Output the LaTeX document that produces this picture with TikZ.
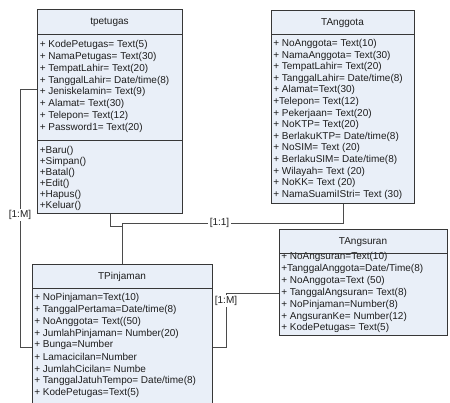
\documentclass[tikz,border=0pt]{standalone}
\usepackage{fontspec}
\setmainfont{Liberation Sans}
\usepackage{xcolor}

\definecolor{boxfill}{RGB}{233,239,248}
\definecolor{boxedge}{RGB}{55,55,55}
\definecolor{linkgray}{RGB}{75,75,75}
\definecolor{rowtext}{RGB}{30,30,30}
\newcommand{\pxu}{0.75pt}

\begin{document}
\begin{tikzpicture}[x=0.75pt,y=-0.75pt,
  class_box/.style={draw=boxedge,fill=boxfill,line width=0.75pt,anchor=north west,inner sep=0pt},
  class_title/.style={inner sep=0pt,text=rowtext,font=\fontsize{7.5}{9}\selectfont},
  row_text/.style={anchor=west,inner sep=0pt,text=rowtext,font=\fontsize{7.5}{9}\selectfont},
  divider/.style={draw=boxedge,line width=0.75pt},
  link/.style={draw=linkgray,line width=0.75pt},
  link_label/.style={fill=white,inner sep=1pt,text=rowtext,font=\fontsize{7.5}{9}\selectfont}]

\useasboundingbox (0,0) rectangle (450,403);

% tpetugas
\node[class_box,minimum width=145*\pxu,minimum height=204*\pxu] (tpetugas) at (37,9) {};
\node[class_title] (tp_title) at (109.5,22) {tpetugas};
\node[row_text] (tp_a1) at (39.5,45) {+ KodePetugas= Text(5)};
\node[row_text] (tp_a2) at (39.5,57) {+ NamaPetugas= Text(30)};
\node[row_text] (tp_a3) at (39.5,69) {+ TempatLahir= Text(20)};
\node[row_text] (tp_a4) at (39.5,81) {+ TanggalLahir= Date/time(8)};
\node[row_text] (tp_a5) at (39.5,92) {+ Jeniskelamin= Text(9)};
\node[row_text] (tp_a6) at (39.5,104) {+ Alamat= Text(30)};
\node[row_text] (tp_a7) at (39.5,116) {+ Telepon= Text(12)};
\node[row_text] (tp_a8) at (39.5,128) {+ Password1= Text(20)};
\node[row_text] (tp_m1) at (39.5,151) {+Baru()};
\node[row_text] (tp_m2) at (39.5,162) {+Simpan()};
\node[row_text] (tp_m3) at (39.5,173) {+Batal()};
\node[row_text] (tp_m4) at (39.5,184) {+Edit()};
\node[row_text] (tp_m5) at (39.5,195) {+Hapus()};
\node[row_text] (tp_m6) at (39.5,206) {+Keluar()};
\path[divider] (37,35) -- (182,35);
\path[divider] (37,140) -- (182,140);

% TAnggota
\node[class_box,minimum width=143*\pxu,minimum height=193*\pxu] (TAnggota) at (271,10) {};
\node[class_title] (ta_title) at (342.5,23) {TAnggota};
\node[row_text] (ta_a1) at (273,44) {+ NoAnggota= Text(10)};
\node[row_text] (ta_a2) at (273,56) {+ NamaAnggota= Text(30)};
\node[row_text] (ta_a3) at (273,67) {+ TempatLahir= Text(20)};
\node[row_text] (ta_a4) at (273,79) {+ TanggalLahir= Date/time(8)};
\node[row_text] (ta_a5) at (273,90) {+ Alamat=Text(30)};
\node[row_text] (ta_a6) at (273,102) {+Telepon= Text(12)};
\node[row_text] (ta_a7) at (273,114) {+ Pekerjaan= Text(20)};
\node[row_text] (ta_a8) at (273,125) {+ NoKTP= Text(20)};
\node[row_text] (ta_a9) at (273,137) {+ BerlakuKTP= Date/time(8)};
\node[row_text] (ta_a10) at (273,148) {+ NoSIM= Text (20)};
\node[row_text] (ta_a11) at (273,160) {+ BerlakuSIM= Date/time(8)};
\node[row_text] (ta_a12) at (273,172) {+ Wilayah= Text (20)};
\node[row_text] (ta_a13) at (273,183) {+ NoKK= Text (20)};
\node[row_text] (ta_a14) at (273,195) {+ NamaSuamiIStri= Text (30)};
\path[divider] (271,35) -- (414,35);

% TPinjaman
\node[class_box,minimum width=180*\pxu,minimum height=166*\pxu] (TPinjaman) at (32,264) {};
\node[class_title] (tj_title) at (122,277) {TPinjaman};
\node[row_text] (tj_a1) at (34,298) {+ NoPinjaman=Text(10)};
\node[row_text] (tj_a2) at (34,310) {+ TanggalPertama=Date/time(8)};
\node[row_text] (tj_a3) at (34,322) {+ NoAnggota= Text((50)};
\node[row_text] (tj_a4) at (34,334) {+ JumlahPinjaman= Number(20)};
\node[row_text] (tj_a5) at (34,345) {+ Bunga=Number};
\node[row_text] (tj_a6) at (34,357) {+ Lamacicilan=Number};
\node[row_text] (tj_a7) at (34,369) {+ JumlahCicilan= Numbe};
\node[row_text] (tj_a8) at (34,381) {+ TanggalJatuhTempo= Date/time(8)};
\node[row_text] (tj_a9) at (34,393) {+ KodePetugas=Text(5)};
\path[divider] (32,288) -- (212,288);

% TAngsuran
\node[class_box,minimum width=168*\pxu,minimum height=106*\pxu] (TAngsuran) at (279,229) {};
\node[class_title] (tg_title) at (363,242) {TAngsuran};
\node[row_text] (tg_a1) at (281,257) {+ NoAngsuran=Text(10)};
\node[row_text] (tg_a2) at (281,269) {+TanggalAnggota=Date/Time(8)};
\node[row_text] (tg_a3) at (281,281) {+ NoAnggota=Text (50)};
\node[row_text] (tg_a4) at (281,293) {+ TanggalAngsuran= Text(8)};
\node[row_text] (tg_a5) at (281,305) {+ NoPinjaman=Number(8)};
\node[row_text] (tg_a6) at (281,317) {+ AngsuranKe= Number(12)};
\node[row_text] (tg_a7) at (281,328) {+ KodePetugas= Text(5)};
\path[divider] (279,253) -- (447,253);

% relations
\path[link] ([yshift=22*\pxu]tpetugas.west) -- ++(-17,0)
  |- node[link_label,pos=0.244] (lbl_left) {[1:M]} (TPinjaman.west);
\path[link] (tpetugas.south) -- ++(0,12) -| (TPinjaman.north);
\path[link] (TAnggota.south) -- ++(0,19)
  -| node[link_label,pos=0.28] (lbl_mid) {[1:1]} (TPinjaman.north);
\path[link] ([yshift=-11*\pxu]TAngsuran.west) -- ++(-53,0)
  |- node[link_label,pos=0.065] (lbl_right) {[1:M]} (TPinjaman.east);

\end{tikzpicture}
\end{document}
